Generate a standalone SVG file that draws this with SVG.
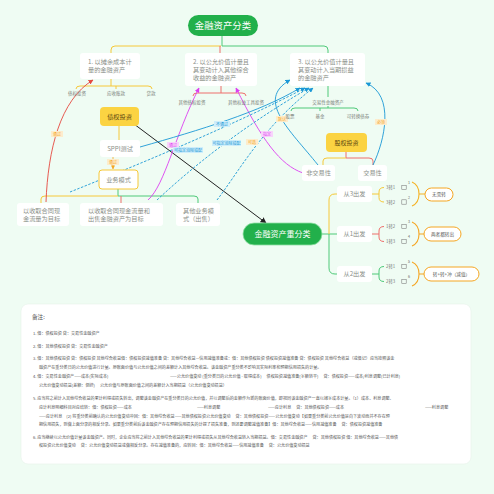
<svg xmlns="http://www.w3.org/2000/svg" width="494" height="494" viewBox="0 0 494 494">
<defs>
<style>
text{font-family:"Noto Sans CJK SC","Noto Sans",sans-serif;}
.box{fill:#ffffff;}
.nt{font-size:6.2px;fill:#8a8f88;}
.sm{font-size:4.5px;fill:#7b7f7a;}
.lbl{font-size:6.2px;fill:#8a8f88;text-anchor:middle;}
.y{stroke:#f6c838;fill:none;stroke-width:1;}
.r{stroke:#ee6f6c;fill:none;stroke-width:1;}
.g{stroke:#4fc979;fill:none;stroke-width:1;}
.rel{fill:none;stroke-width:0.9;}
.note{font-size:4.1px;fill:#555;}
.tag{font-size:4px;text-anchor:middle;}
.sup{font-size:3.6px;fill:#666;}
.conv{font-size:4.3px;fill:#777;}
.pill{fill:#fff;stroke:#f5a623;stroke-width:1;}
.pt{font-size:4.6px;fill:#555;text-anchor:middle;}
.ic{fill:none;stroke:#777;stroke-width:0.55;}
</style>
<marker id="mB" viewBox="0 0 10 10" refX="9" refY="5" markerWidth="5" markerHeight="5" markerUnits="userSpaceOnUse" orient="auto"><path d="M0,0 L10,5 L0,10 z" fill="#1b98d6"/></marker>
<marker id="mR" viewBox="0 0 10 10" refX="9" refY="5" markerWidth="5" markerHeight="5" markerUnits="userSpaceOnUse" orient="auto"><path d="M0,0 L10,5 L0,10 z" fill="#e5483f"/></marker>
<marker id="mM" viewBox="0 0 10 10" refX="9" refY="5" markerWidth="5" markerHeight="5" markerUnits="userSpaceOnUse" orient="auto"><path d="M0,0 L10,5 L0,10 z" fill="#dd3ff0"/></marker>
<marker id="mK" viewBox="0 0 10 10" refX="9" refY="5" markerWidth="6" markerHeight="6" markerUnits="userSpaceOnUse" orient="auto"><path d="M0,0 L10,5 L0,10 z" fill="#222"/></marker>
<marker id="mO" viewBox="0 0 10 10" refX="9" refY="5" markerWidth="4" markerHeight="4" markerUnits="userSpaceOnUse" orient="auto"><path d="M0,0 L10,5 L0,10 z" fill="#f5a623"/></marker>
</defs>
<rect width="494" height="494" fill="#effcf3"/>

<g id="connectors">
<path class="g" d="M222,36 V46"/>
<path class="y" d="M221,46 H115 Q111,46 111,50 V53"/>
<path class="r" d="M220,46 V53"/>
<path class="g" d="M222,46 H324 Q328,46 328,50 V53"/>
<path class="y" d="M111,79 V86 M80,86 H148 M80,86 Q76,86 76,89 M148,86 Q152,86 152,89 M116,86 V89"/>
<path class="r" d="M221,86 V93 M197,93 H242 M197,93 Q193,93 193,96 M242,93 Q246,93 246,96"/>
<path class="g" d="M328,86 V97 M328,106 V108 M295,108 H354 M295,108 Q291,108 291,111 M354,108 Q358,108 358,111 M320,108 V111"/>
<path class="y" d="M119,126 V140"/>
<path d="M113,157 V169" stroke="#f5a623" stroke-width="0.8" stroke-dasharray="2,1.5" fill="none" marker-end="url(#mO)"/>
<path class="g" d="M118,189 V196 H194 Q198,196 198,199 V203"/>
<path class="y" d="M118,196 H45 Q41,196 41,199 V203"/>
<path class="r" d="M121,196 V203"/>
<path class="r" d="M346,152 V158 H369 Q373,158 373,161 V165"/>
<path class="y" d="M346,158 H327 Q323,158 323,161 V165"/>
<path class="g" d="M322,234 H337"/>
<path class="y" d="M329,234 V200 Q329,194 335,194 H337"/>
<path class="g" d="M329,234 V268 Q329,274 335,274 H337"/>
<path class="y" d="M372,194 H379 M384,187.5 Q379,187.5 379,192 V197.5 Q379,202 384,202"/>
<path class="r" d="M372,234 H379 M384,226.5 Q379,226.5 379,231 V237 Q379,241.5 384,241.5"/>
<path class="g" d="M372,274 H379 M384,266.5 Q379,266.5 379,271 V277 Q379,281.5 384,281.5"/>
<path d="M412,182 Q419,185 419,194 Q419,203 412,206 M419,194 H425" fill="none" stroke="#f5b224" stroke-width="1.1"/>
<path d="M412,222 Q419,225 419,234 Q419,243 412,246 M419,234 H424" fill="none" stroke="#f5a623" stroke-width="1.1"/>
<path d="M412,262 Q419,265 419,274 Q419,283 412,286 M419,274 H424" fill="none" stroke="#f5a623" stroke-width="1.1"/>
<path d="M134,124 L266,223" stroke="#222" stroke-width="1" fill="none" marker-end="url(#mK)"/>
<path class="rel" stroke="#e5483f" d="M46,202 C48,150 60,100 93,80" marker-end="url(#mR)"/>
<path class="rel" stroke="#dd3ff0" d="M148,200 C165,185 175,135 199,88" marker-end="url(#mM)"/>
<path class="rel" stroke="#dd3ff0" d="M303,173 C280,165 262,140 236,88" marker-end="url(#mM)"/>
<path class="rel" stroke="#1b98d6" d="M373,165 C385,140 395,95 366,83" marker-end="url(#mB)"/>
<path class="rel" stroke="#1b98d6" d="M318,165 C290,130 255,100 290,80" marker-end="url(#mB)"/>
<path class="rel" stroke="#1b98d6" d="M140,147 C200,130 260,112 300,88" marker-end="url(#mB)"/>
<path class="rel" stroke="#1b98d6" stroke-dasharray="2.5,1.5" d="M70,192 C150,160 240,122 305,88" marker-end="url(#mB)"/>
<path class="rel" stroke="#1b98d6" stroke-dasharray="2.5,1.5" d="M157,200 C200,160 250,122 309,88" marker-end="url(#mB)"/>
<path class="rel" stroke="#1b98d6" stroke-dasharray="2.5,1.5" d="M217,200 C240,170 262,128 313,88" marker-end="url(#mB)"/>
</g>

<g id="rel-labels">
<rect x="51" y="131" width="12" height="6" fill="#fdeccc"/><text class="tag" x="57" y="135.5" fill="#f5a623">通过</text>
<rect x="107" y="159" width="12" height="6" fill="#fdeccc"/><text class="tag" x="113" y="163.5" fill="#f5a623">通过</text>
<rect x="167" y="142" width="12" height="6" fill="#f8d3fb"/><text class="tag" x="173" y="146.5" fill="#dd3ff0">通过</text>
<rect x="261" y="131" width="12" height="6" fill="#f8d3fb"/><text class="tag" x="267" y="135.5" fill="#dd3ff0">指定</text>
<rect x="276" y="116" width="12" height="6" fill="#fdeccc"/><text class="tag" x="282" y="120.5" fill="#f5a623">默认</text>
<rect x="246" y="139" width="12" height="6" fill="#fdeccc"/><text class="tag" x="252" y="143.5" fill="#f5a623">可选</text>
<rect x="375" y="119" width="12" height="6" fill="#fdeccc"/><text class="tag" x="381" y="123.5" fill="#f5a623">必须</text>
<rect x="214" y="121" width="16" height="6" fill="#cfeefb"/><text class="tag" x="222" y="125.5" fill="#1b98d6">不通过</text>
<rect x="173" y="147" width="30" height="6" fill="#cfeefb"/><text class="tag" x="188" y="151.5" fill="#1b98d6">可指定消除错配</text>
<rect x="212" y="140" width="29" height="6" fill="#cfeefb"/><text class="tag" x="226.5" y="144.5" fill="#1b98d6">可指定消除错配</text>
</g>

<g id="root"><rect x="188" y="15" width="70" height="21" rx="10.5" fill="#22b04b"/><text x="223" y="29.3" font-size="9.4" fill="#fff" text-anchor="middle">金融资产分类</text></g>

<g id="node1"><rect class="box" x="80" y="53" width="60" height="26" rx="3"/><text class="nt" x="88" y="64">1. 以摊余成本计</text><text class="nt" x="88" y="72">量的金融资产</text></g>
<g id="node2"><rect class="box" x="185" y="53" width="72" height="33" rx="3"/><text class="nt" x="193" y="64">2. 以公允价值计量且</text><text class="nt" x="193" y="72">其变动计入其他综合</text><text class="nt" x="193" y="80">收益的金融资产</text></g>
<g id="node3"><rect class="box" x="290" y="53" width="75" height="33" rx="3"/><text class="nt" x="298" y="64">3. 以公允价值计量且</text><text class="nt" x="298" y="72">其变动计入当期损益</text><text class="nt" x="298" y="80">的金融资产</text></g>

<g id="n1-children"><text class="sm" x="77" y="94.6" text-anchor="middle">债权投资</text><text class="sm" x="116" y="94.6" text-anchor="middle">应收账款</text><text class="sm" x="151" y="94.6" text-anchor="middle">贷款</text></g>
<g id="n2-children"><text class="sm" x="192" y="103.6" text-anchor="middle">其他债权投资</text><text class="sm" x="246" y="103.6" text-anchor="middle">其他权益工具投资</text></g>
<g id="n3-children"><text class="sm" x="328" y="103.6" text-anchor="middle">交易性金融资产</text><text class="sm" x="290" y="117.6" text-anchor="middle">股票</text><text class="sm" x="320" y="117.6" text-anchor="middle">基金</text><text class="sm" x="358" y="117.6" text-anchor="middle">可转换债券</text></g>

<g id="debt"><rect x="100" y="107" width="39" height="19" rx="4" fill="#fbd342"/><text x="119.5" y="119" font-size="6.2" fill="#5a4610" text-anchor="middle">债权投资</text></g>
<g id="sppi"><rect class="box" x="100" y="140" width="40" height="17" rx="3"/><text class="lbl" x="120" y="150.6">SPPI测试</text></g>
<g id="bizmodel"><rect x="99" y="170" width="39" height="19" rx="3" fill="#fff" stroke="#f6c838" stroke-width="1"/><text class="lbl" x="118.5" y="182">业务模式</text></g>
<g id="bm1"><rect class="box" x="17" y="203" width="52" height="23" rx="3"/><text class="nt" x="23" y="213">以收取合同现</text><text class="nt" x="23" y="220.5">金流量为目标</text></g>
<g id="bm2"><rect class="box" x="80" y="203" width="83" height="23" rx="3"/><text class="nt" x="88" y="213">以收取合同现金流量和</text><text class="nt" x="88" y="220.5">出售金融资产为目标</text></g>
<g id="bm3"><rect class="box" x="176" y="203" width="44" height="23" rx="3"/><text class="nt" x="183" y="213">其他业务模</text><text class="nt" x="183" y="220.5">式（出售）</text></g>

<g id="equity"><rect x="326" y="133" width="41" height="19" rx="4" fill="#fbd342"/><text x="346.5" y="144.6" font-size="6" fill="#5a4610" text-anchor="middle">股权投资</text></g>
<g id="nontrade"><rect class="box" x="302" y="165" width="33" height="16" rx="3"/><text class="lbl" x="318.5" y="175.2">非交易性</text></g>
<g id="trade"><rect class="box" x="358" y="165" width="29" height="16" rx="3"/><text class="lbl" x="372.5" y="175.2">交易性</text></g>

<g id="reclass"><rect x="243" y="223" width="79" height="22" rx="11" fill="#22b04b" stroke="#8fe0a3" stroke-width="0.8"/><text x="282.5" y="236.8" font-size="8" fill="#fff" text-anchor="middle">金融资产重分类</text></g>

<g id="from3"><rect class="box" x="337" y="186" width="35" height="16" rx="3"/><text class="lbl" x="354.5" y="196.2">从3出发</text>
<text class="conv" x="386" y="189">3转1</text><rect class="ic" x="401.8" y="185.3" width="4.4" height="4.4"/><text class="sup" x="408" y="184">1</text>
<text class="conv" x="386" y="203.5">3转2</text><rect class="ic" x="401.8" y="199.8" width="4.4" height="4.4"/><text class="sup" x="408" y="198.5">2</text>
<rect class="pill" x="425" y="188" width="28" height="13" rx="6.5"/><text class="pt" x="439" y="196.2">无需转</text></g>
<g id="from1"><rect class="box" x="337" y="226" width="35" height="16" rx="3"/><text class="lbl" x="354.5" y="236.2">从1出发</text>
<text class="conv" x="386" y="228">1转2</text><rect class="ic" x="401.8" y="224.3" width="4.4" height="4.4"/><text class="sup" x="408" y="223">3</text>
<text class="conv" x="386" y="243">1转3</text><rect class="ic" x="401.8" y="239.3" width="4.4" height="4.4"/><text class="sup" x="408" y="238">4</text>
<rect class="pill" x="424" y="227" width="37" height="14" rx="7"/><text class="pt" x="442.5" y="235.7">两者都转出</text></g>
<g id="from2"><rect class="box" x="337" y="266" width="35" height="16" rx="3"/><text class="lbl" x="354.5" y="276.2">从2出发</text>
<text class="conv" x="386" y="268">2转1</text><rect class="ic" x="401.8" y="264.3" width="4.4" height="4.4"/><text class="sup" x="408" y="263">5</text>
<text class="conv" x="386" y="283">2转3</text><rect class="ic" x="401.8" y="279.3" width="4.4" height="4.4"/><text class="sup" x="408" y="278">6</text>
<rect class="pill" x="424" y="267" width="55" height="14" rx="7"/><text class="pt" x="451.5" y="275.7">转+转+冲（减值）</text></g>

<g id="notes">
<rect x="21" y="304" width="450" height="160" rx="7" fill="#fff" stroke="#e6f2ea" stroke-width="0.6"/>
<text x="32" y="319" font-size="5.6" fill="#555">备注:</text>
<text class="note" x="33" y="335">1. 借：债权投资 贷：交易性金融资产</text>
<text class="note" x="33" y="348">2. 借：其他债权投资 贷：交易性金融资产</text>
<text class="note" x="33" y="360">3. 借：其他债权投资 贷：债权投资 其他综合收益借：债权投资减值准备 贷：其他综合收益—信用减值准备或：借：其他债权投资 债权投资减值准备 贷：债权投资 其他综合收益（或借记）应当按照该金</text>
<text class="note" x="39" y="369">融资产在重分类日的公允价值进行计量。原账面价值与公允价值之间的差额计入其他综合收益。该金融资产重分类不影响其实际利率和预期信用损失的计量。</text>
<text class="note" x="33" y="378">4. 借：交易性金融资产——成本(实际成本)</text>
<text class="note" x="170" y="378">——公允价值变动 (重分类日的公允价值 - 取得成本)　 债权投资减值准备(余额转平)　 贷：债权投资——成本/利息调整(已计利息)</text>
<text class="note" x="39" y="387">公允价值变动损益(差额：倒挤)　 公允价值与原账面价值之间的差额计入当期损益（公允价值变动损益）</text>
<text class="note" x="33" y="400">5. 应当将之前计入其他综合收益的累计利得或损失转出，调整该金融资产在重分类日的公允价值，并以调整后的金额作为新的账面价值，即视同该金融资产一直以摊余成本计量。（1）成本、利息调整、</text>
<text class="note" x="39" y="409">应计利息明细科目对应结转：借：债权投资——成本</text>
<text class="note" x="197" y="409">——利息调整</text>
<text class="note" x="268" y="409">——应计利息　 贷：其他债权投资——成本</text>
<text class="note" x="425" y="409">——利息调整</text>
<text class="note" x="39" y="418">——应计利息　(2) 将重分类前确认的公允价值变动冲回：借：其他综合收益——其他债权投资公允价值变动　 贷：其他债权投资——公允价值变动【如果重分类前公允价值是向下波动而并不存在预</text>
<text class="note" x="39" y="426">期信用损失，则做上面分录的相反分录。如果重分类前后该金融资产存在预期信用损失的计提了损失准备，则还要调整减值准备】借：其他综合收益——信用减值准备　 贷：债权投资减值准备</text>
<text class="note" x="33" y="439">6. 应当继续以公允价值计量该金融资产。同时，企业应当将之前计入其他综合收益的累计利得或损失从其他综合收益转入当期损益。借：交易性金融资产　 贷：其他债权投资 借：其他综合收益——其他债</text>
<text class="note" x="39" y="447">权投资公允价值变动　 贷：公允价值变动损益或做相反分录。存在减值准备的，应转回：借：其他综合收益——信用减值准备　 贷：公允价值变动损益</text>
</g>
</svg>
